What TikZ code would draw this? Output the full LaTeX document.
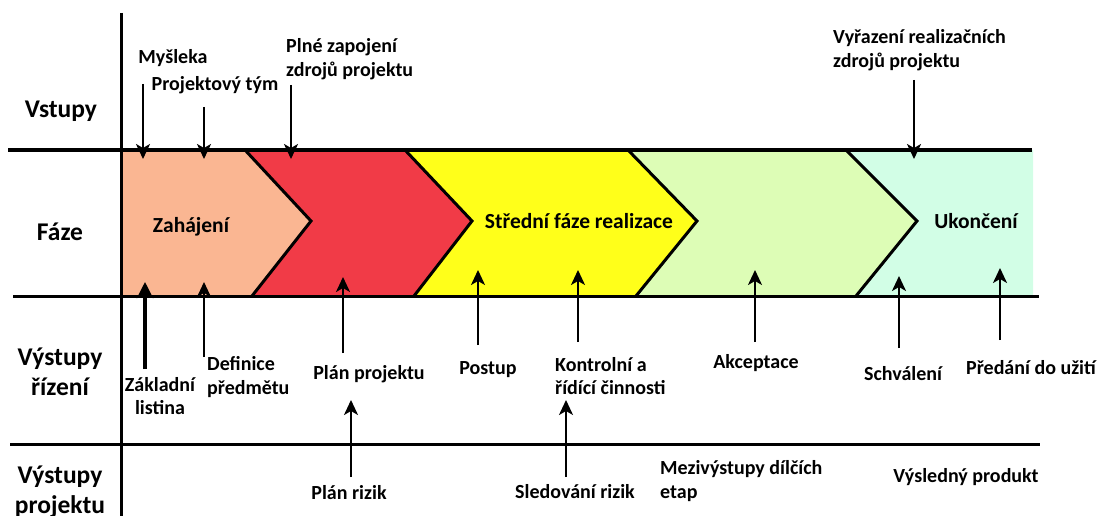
\documentclass[tikz,border=0pt]{standalone}
\usepackage{fontspec}
\setmainfont{Carlito}
\usetikzlibrary{arrows.meta}
\definecolor{csalmon}{RGB}{250,182,146}
\definecolor{cred}{RGB}{241,59,71}
\definecolor{cyellow}{RGB}{255,255,26}
\definecolor{cgreen}{RGB}{221,253,182}
\definecolor{ccyan}{RGB}{210,254,230}
\begin{document}
\begin{tikzpicture}[x=1pt,y=-1pt,
  mainline/.style={line width=3pt},
  border/.style={line width=3pt, line join=miter},
  arr/.style={line width=2pt, -{Stealth[length=15pt,width=14pt,inset=4pt]}},
  thickarr/.style={line width=3.5pt, -{Stealth[length=16pt,width=16pt,inset=4pt]}},
  big/.style={font=\bfseries\fontsize{25.5}{30}\selectfont, align=center, inner sep=0pt},
  phase/.style={font=\bfseries\fontsize{21.5}{24}\selectfont, inner sep=0pt},
  lbl/.style={font=\bfseries\fontsize{20}{23.5}\selectfont, inner sep=0pt}
]
\useasboundingbox (0,0) rectangle (1100,516);
\clip (0,0) rectangle (1100,516);

% phase fills
\fill[csalmon] (121,150) -- (245,150) -- (311,221) -- (252,296) -- (121,296) -- cycle;
\fill[cred] (245,150) -- (405,150) -- (472,221) -- (414,296) -- (252,296) -- (311,221) -- cycle;
\fill[cyellow] (405,150) -- (628,150) -- (697,221) -- (636,296) -- (414,296) -- (472,221) -- cycle;
\fill[cgreen] (628,150) -- (846,150) -- (917,221) -- (856,296) -- (636,296) -- (697,221) -- cycle;
\fill[ccyan] (846,150) -- (1033,150) -- (1033,296) -- (856,296) -- (917,221) -- cycle;

% chevron borders
\draw[border] (245,150) -- (311,221) -- (252,296);
\draw[border] (405,150) -- (472,221) -- (414,296);
\draw[border] (628,150) -- (697,221) -- (636,296);
\draw[border] (846,150) -- (917,221) -- (856,296);

% grid lines
\coordinate (h1a) at (8,150);   \coordinate (h1b) at (1032,150);
\coordinate (h2a) at (13,296);  \coordinate (h2b) at (1039,296);
\coordinate (h3a) at (10,444);  \coordinate (h3b) at (1040,444);
\coordinate (va) at (121,13);   \coordinate (vb) at (121,520);
\draw[mainline] (h1a) -- (h1b);
\draw[mainline] (h2a) -- (h2b);
\draw[mainline] (h3a) -- (h3b);
\draw[mainline] (va) -- (vb);

% row titles
\node[big] (vstupy) at (61,111) {Vstupy};
\node[big] (faze) at (60,232) {Fáze};
\node[big] (vyr) at (60,372) {Výstupy\\řízení};
\node[big] (vyp) at (60,492) {Výstupy\\projektu};

% phase names
\node[phase] (zah) at (191,227) {Zahájení};
\node[phase] (stred) at (579,221) {Střední fáze realizace};
\node[phase] (ukon) at (976,221) {Ukončení};

% inputs
\node[lbl] (mys) at (173,58) {Myšleka};
\node[lbl] (tym) at (215,85) {Projektový tým};
\node[lbl, anchor=west, align=left] (plne) at (286,59) {Plné zapojení\\zdrojů projektu};
\node[lbl, anchor=west, align=left] (vyraz) at (833,50) {Vyřazení realizačních\\zdrojů projektu};

\coordinate (i1a) at (143,84);  \coordinate (i1b) at (143,159);
\coordinate (i2a) at (204,107); \coordinate (i2b) at (204,159);
\coordinate (i3a) at (291,85);  \coordinate (i3b) at (291,159);
\coordinate (i4a) at (914,80);  \coordinate (i4b) at (914,159);
\draw[arr] (i1a) -- (i1b);
\draw[arr] (i2a) -- (i2b);
\draw[arr] (i3a) -- (i3b);
\draw[arr] (i4a) -- (i4b);

% management outputs
\node[lbl, align=center] (zakl) at (160,396) {Základní\\listina};
\node[lbl, anchor=west, align=left] (def) at (207,377) {Definice\\předmětu};
\node[lbl] (planp) at (369,374) {Plán projektu};
\node[lbl] (postup) at (488,370) {Postup};
\node[lbl, anchor=west, align=left] (kontr) at (555,376) {Kontrolní a\\řídící činnosti};
\node[lbl] (akc) at (756,363) {Akceptace};
\node[lbl] (schv) at (903,374) {Schválení};
\node[lbl] (pred) at (1031,368) {Předání do užití};

\coordinate (o1a) at (145,369); \coordinate (o1b) at (145,282);
\coordinate (o2a) at (204,357); \coordinate (o2b) at (204,282);
\coordinate (o3a) at (343,353); \coordinate (o3b) at (343,277);
\coordinate (o4a) at (478,345); \coordinate (o4b) at (478,270);
\coordinate (o5a) at (578,342); \coordinate (o5b) at (578,270);
\coordinate (o6a) at (755,342); \coordinate (o6b) at (755,270);
\coordinate (o7a) at (899,348); \coordinate (o7b) at (899,276);
\coordinate (o8a) at (1000,340); \coordinate (o8b) at (1000,268);
\draw[thickarr] (o1a) -- (o1b);
\draw[arr] (o2a) -- (o2b);
\draw[arr] (o3a) -- (o3b);
\draw[arr] (o4a) -- (o4b);
\draw[arr] (o5a) -- (o5b);
\draw[arr] (o6a) -- (o6b);
\draw[arr] (o7a) -- (o7b);
\draw[arr] (o8a) -- (o8b);

% project outputs
\node[lbl] (rizik) at (349,493) {Plán rizik};
\node[lbl] (sled) at (575,492) {Sledování rizik};
\node[lbl, anchor=west, align=left] (mezi) at (660,481) {Mezivýstupy dílčích\\etap};
\node[lbl] (vysl) at (966,477) {Výsledný produkt};

\coordinate (p1a) at (351,477); \coordinate (p1b) at (351,400);
\coordinate (p2a) at (566,477); \coordinate (p2b) at (566,400);
\draw[arr] (p1a) -- (p1b);
\draw[arr] (p2a) -- (p2b);
\end{tikzpicture}
\end{document}
